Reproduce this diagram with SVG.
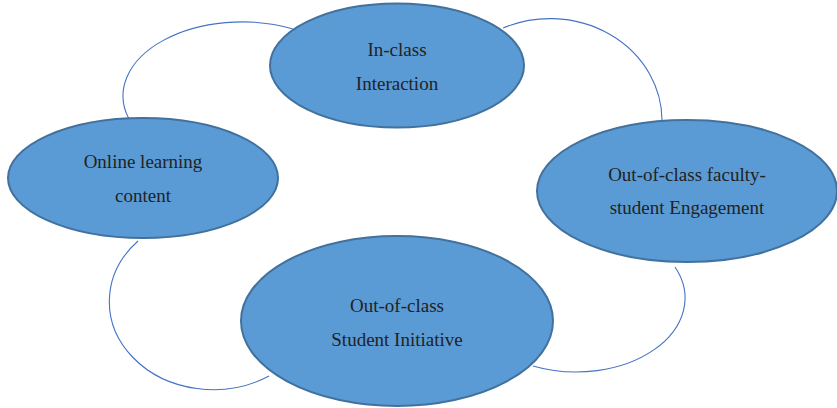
<svg xmlns="http://www.w3.org/2000/svg" width="837" height="408" viewBox="0 0 837 408">
<style>
.node{fill:#5B9BD5;stroke:#41719C;stroke-width:2}
.conn{fill:none;stroke:#4472C4;stroke-width:1.1}
.lbl{font-family:"Liberation Serif","Times New Roman",serif;font-size:19px;fill:#222222;text-anchor:middle}
</style>
<rect width="837" height="408" fill="#ffffff"/>
<g id="connectors">
<path class="conn" d="M129,119 A119,74 0 0 1 293,29"/>
<path class="conn" d="M503,28 A112,102 0 0 1 662,120"/>
<path class="conn" d="M138,241 A104,88 0 0 0 269,376"/>
<path class="conn" d="M675,267 A109,74 0 0 1 533,366"/>
</g>
<g id="node-inclass">
<ellipse class="node" cx="397" cy="65.5" rx="127" ry="62"/>
<text class="lbl" x="397" y="56">In-class</text>
<text class="lbl" x="397" y="90">Interaction</text>
</g>
<g id="node-faculty">
<ellipse class="node" cx="687" cy="191" rx="150" ry="71"/>
<text class="lbl" x="687" y="181">Out-of-class faculty-</text>
<text class="lbl" x="687" y="214">student Engagement</text>
</g>
<g id="node-online">
<ellipse class="node" cx="143" cy="178" rx="135" ry="60"/>
<text class="lbl" x="143" y="168">Online learning</text>
<text class="lbl" x="143" y="202">content</text>
</g>
<g id="node-student">
<ellipse class="node" cx="397" cy="321" rx="156" ry="85"/>
<text class="lbl" x="397" y="312">Out-of-class</text>
<text class="lbl" x="397" y="346">Student Initiative</text>
</g>
</svg>
